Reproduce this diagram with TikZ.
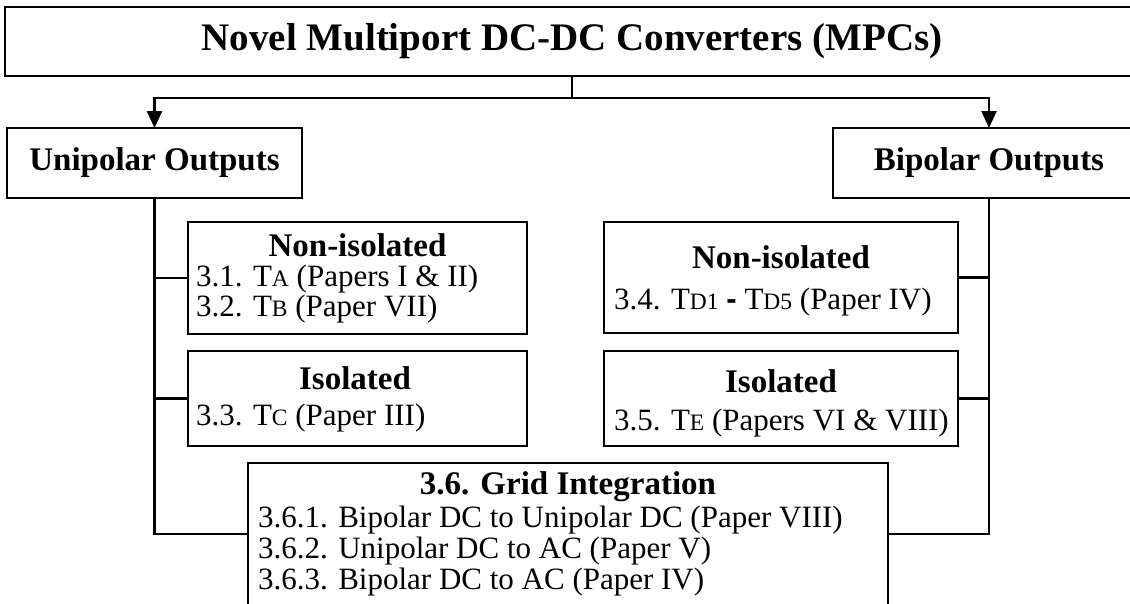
\documentclass[tikz,border=0pt]{standalone}
\usepackage{fontspec}
\setmainfont{Liberation Serif}
\setsansfont{Liberation Sans}
\usetikzlibrary{arrows.meta}
\newcommand{\smcap}[1]{{\fontsize{23.5}{23.5}\selectfont #1}}
\tikzset{
  box/.style={draw, line width=2.4pt, inner sep=0pt, outer sep=0pt},
  hdr/.style={font=\fontsize{33}{33}\selectfont\bfseries, inner sep=0pt, anchor=base},
  itm/.style={font=\fontsize{31}{31}\selectfont, inner sep=0pt, anchor=base west},
  conn/.style={line width=2.4pt},
  arr/.style={conn, -{Triangle[width=15pt,length=17pt]}}
}
\begin{document}
\begin{tikzpicture}[x=1pt,y=-1pt]
\useasboundingbox (0,0) rectangle (1130,603);
\clip (0,0) rectangle (1130,603);
% boxes
\node[box, minimum width=1134pt, minimum height=69pt, font=\fontsize{39}{39}\selectfont\bfseries] (title) at (572,41.5) {Novel Multiport DC-DC Converters (MPCs)};
\node[box, minimum width=295pt, minimum height=70pt, font=\fontsize{33}{33}\selectfont\bfseries] (uni) at (154.5,163) {Unipolar Outputs};
\node[box, minimum width=312pt, minimum height=70pt, font=\fontsize{33}{33}\selectfont\bfseries] (bip) at (989,163) {Bipolar Outputs};
\node[box, minimum width=339pt, minimum height=112pt] (ln) at (357.5,278) {};
\node[box, minimum width=339pt, minimum height=95pt] (li) at (357.5,398.5) {};
\node[box, minimum width=354pt, minimum height=111pt] (rn) at (781,277.5) {};
\node[box, minimum width=354pt, minimum height=95pt] (ri) at (781,398.5) {};
\node[box, minimum width=640pt, minimum height=142pt] (grid) at (568,534) {};
% texts
\node[hdr] (lnh) at (357.5,256) {Non-isolated};
\node[itm] (ln1) at (196,286) {3.1. T\smcap{A} (Papers I \& II)};
\node[itm] (ln2) at (196,316) {3.2. T\smcap{B} (Paper VII)};
\node[hdr] (lih) at (355,389) {Isolated};
\node[itm] (li1) at (196,425) {3.3. T\smcap{C} (Paper III)};
\node[hdr] (rnh) at (781,268) {Non-isolated};
\node[itm] (rn1) at (614,309) {3.4. T\smcap{D1} {\sffamily\bfseries -} T\smcap{D5} (Paper IV)};
\node[hdr] (rih) at (781,392) {Isolated};
\node[itm] (ri1) at (614,430) {3.5. T\smcap{E} (Papers VI \& VIII)};
\node[hdr] (gh) at (568,494) {3.6. Grid Integration};
\node[itm] (g1) at (258,527) {3.6.1. Bipolar DC to Unipolar DC (Paper VIII)};
\node[itm] (g2) at (258,558) {3.6.2. Unipolar DC to AC (Paper V)};
\node[itm] (g3) at (258,589) {3.6.3. Bipolar DC to AC (Paper IV)};
% connectors
\coordinate (j) at (572,98);
\draw[conn] (title.south) -- (j);
\draw[arr] (j) -| (uni.north);
\draw[arr] (j) -| (bip.north);
\draw[conn] (uni.south) |- (grid.west);
\draw[conn] (uni.south |- ln.west) -- (ln.west);
\draw[conn] (uni.south |- li.west) -- (li.west);
\draw[conn] (bip.south) |- (grid.east);
\draw[conn] (bip.south |- rn.east) -- (rn.east);
\draw[conn] (bip.south |- ri.east) -- (ri.east);
\end{tikzpicture}
\end{document}
